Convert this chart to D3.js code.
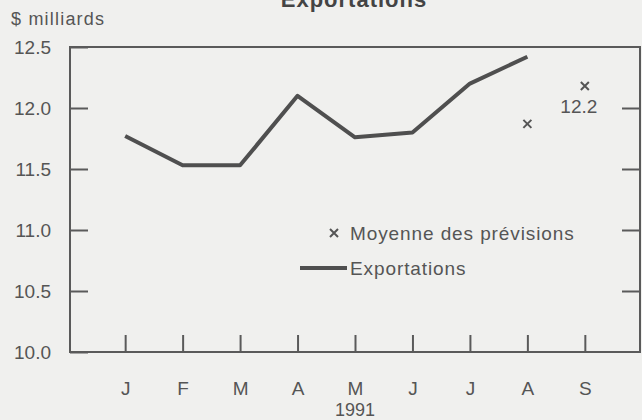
<!DOCTYPE html>
<html>
<head>
<meta charset="utf-8">
<script src="https://cdn.jsdelivr.net/npm/d3@7"></script>
<style>
  body { margin: 0; background: #f0f0ee; }
  svg { display: block; font-family: "Liberation Sans", Arial, sans-serif; }
  .axis path { display: none; }
  .axis line { stroke: #5a5a5a; stroke-width: 2; }
  .axis text { fill: #555; font-size: 19px; }
</style>
</head>
<body>
<div id="chart"></div>
<script>
var width = 642;
var height = 420;

// months shown on the axis
var months = ["J", "F", "M", "A", "M", "J", "J", "A", "S"];
// exports, $ billions, Jan - Aug 1991
var exportValues = [11.77, 11.53, 11.53, 12.10, 11.76, 11.80, 12.20, 12.42];
// average of forecasts (Aug, Sep)
var forecastMonths = [7, 8];
var forecasts = [11.87, 12.18];
var forecastLabels = ["", "12.2"];
var yTicks = [10.0, 10.5, 11.0, 11.5, 12.0, 12.5];

var mLeft = 70, mRight = 640, mTop = 47, mBottom = 352;

var svg = d3.select("#chart").append("svg")
  .attr("width", width)
  .attr("height", height);

svg.append("rect")
  .attr("width", width).attr("height", height)
  .attr("fill", "#f0f0ee");

var x = d3.scalePoint()
  .domain(d3.range(months.length))
  .range([mLeft, mRight])
  .padding(0.96);

var y = d3.scaleLinear()
  .domain([10, 12.5])
  .range([mBottom, mTop]);

// title, cut off at the top like the scan
svg.append("text")
  .attr("x", 354).attr("y", 7)
  .attr("text-anchor", "middle")
  .attr("font-weight", "bold")
  .attr("font-size", 22)
  .attr("letter-spacing", 1)
  .attr("fill", "#444")
  .text("Exportations");

svg.append("text")
  .attr("x", 11).attr("y", 25)
  .attr("font-size", 18)
  .attr("letter-spacing", 1.2)
  .attr("fill", "#555")
  .text("$ milliards");

// frame
svg.append("rect")
  .attr("x", mLeft).attr("y", mTop)
  .attr("width", mRight - mLeft).attr("height", mBottom - mTop)
  .attr("fill", "none")
  .attr("stroke", "#5a5a5a")
  .attr("stroke-width", 2);

svg.append("g")
  .attr("class", "axis")
  .attr("transform", "translate(" + mLeft + ",0)")
  .call(d3.axisLeft(y).tickValues(yTicks).tickFormat(d3.format(".1f"))
    .tickSizeInner(-18).tickSizeOuter(0).tickPadding(19));

svg.append("g")
  .attr("class", "axis")
  .attr("transform", "translate(" + mRight + ",0)")
  .call(d3.axisRight(y).tickValues(yTicks.slice(1, 5)).tickFormat("")
    .tickSizeInner(-18).tickSizeOuter(0));

svg.append("g")
  .attr("class", "axis")
  .attr("transform", "translate(0," + mBottom + ")")
  .call(d3.axisBottom(x).tickFormat(function(i) { return months[i]; })
    .tickSizeInner(-17).tickSizeOuter(0).tickPadding(30));

svg.append("text")
  .attr("x", x(4)).attr("y", 416)
  .attr("text-anchor", "middle")
  .attr("font-size", 18)
  .attr("fill", "#555")
  .text("1991");

var line = d3.line()
  .x(function(d, i) { return x(i); })
  .y(function(d) { return y(d); });

svg.append("path")
  .datum(exportValues)
  .attr("d", line)
  .attr("fill", "none")
  .attr("stroke", "#4f4f4f")
  .attr("stroke-width", 4)
  .attr("stroke-linejoin", "round");

function cross(g, cx, cy) {
  g.append("path")
    .attr("d", "M" + (cx - 4) + "," + (cy - 4) + "L" + (cx + 4) + "," + (cy + 4) +
      "M" + (cx - 4) + "," + (cy + 4) + "L" + (cx + 4) + "," + (cy - 4))
    .attr("stroke", "#555")
    .attr("stroke-width", 2);
}

forecasts.forEach(function(v, i) {
  var cx = x(forecastMonths[i]);
  cross(svg, cx, y(v));
  if (forecastLabels[i]) {
    svg.append("text")
      .attr("x", cx - 6).attr("y", y(v) + 27)
      .attr("text-anchor", "middle")
      .attr("font-size", 19)
      .attr("fill", "#555")
      .text(forecastLabels[i]);
  }
});

// legend
cross(svg, 334, 233);
svg.append("text")
  .attr("x", 350).attr("y", 240)
  .attr("font-size", 19)
  .attr("letter-spacing", 0.9)
  .attr("fill", "#555")
  .text("Moyenne des prévisions");

svg.append("line")
  .attr("x1", 300).attr("x2", 347)
  .attr("y1", 268).attr("y2", 268)
  .attr("stroke", "#4f4f4f")
  .attr("stroke-width", 4);
svg.append("text")
  .attr("x", 350).attr("y", 275)
  .attr("font-size", 19)
  .attr("letter-spacing", 0.9)
  .attr("fill", "#555")
  .text("Exportations");
</script>
</body>
</html>
